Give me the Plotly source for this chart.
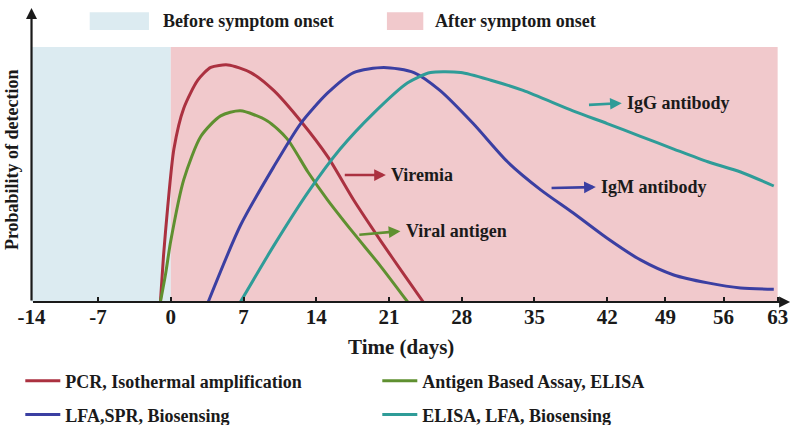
import numpy as np
import plotly.graph_objects as go

# ---- data (days since symptom onset, probability of detection 0..1) ----
tick_days = [-14, -7, 0, 7, 14, 21, 28, 35, 42, 49, 56, 63]
tick_labels = ["-14", "-7", "0", "7", "14", "21", "28", "35", "42", "49", "56", "63"]

pcr_days = [-1, -0.7, -0.3, 0.3, 1.25, 2.6, 3.85, 5.5, 7.7, 9.9, 12.5, 15.1, 17.6, 20.2, 22.4, 24.3]
pcr_prob = [0, 0.18, 0.37, 0.60, 0.76, 0.87, 0.92, 0.93, 0.90, 0.83, 0.71, 0.57, 0.40, 0.24, 0.11, 0]

antigen_days = [-1, -0.5, 0, 1.25, 2.9, 4.8, 6.7, 9.3, 11.2, 13.2, 15.1, 17.6, 20.2, 22.8]
antigen_prob = [0, 0.11, 0.24, 0.48, 0.65, 0.73, 0.75, 0.71, 0.64, 0.51, 0.40, 0.27, 0.14, 0]

igm_days = [3.6, 6.7, 9.9, 12.5, 15.1, 17.6, 20.5, 23.4, 25.9, 29.1, 32.4, 35.6, 38.7, 42, 46, 50, 54.1, 58.2, 62.5]
igm_prob = [0, 0.30, 0.53, 0.70, 0.82, 0.90, 0.92, 0.90, 0.83, 0.70, 0.55, 0.44, 0.35, 0.25, 0.165, 0.106, 0.075, 0.055, 0.05]

igg_days = [6.7, 9.9, 13.2, 16.3, 19.5, 22.8, 25, 27.9, 30.8, 33.9, 38.7, 42, 46, 50, 54.1, 58.2, 62.5]
igg_prob = [0, 0.22, 0.43, 0.60, 0.74, 0.86, 0.90, 0.90, 0.87, 0.83, 0.75, 0.70, 0.65, 0.60, 0.55, 0.51, 0.455]

series_names = ["PCR, Isothermal amplification", "Antigen Based Assay, ELISA",
                "LFA,SPR, Biosensing", "ELISA, LFA, Biosensing"]

# ---- axis scale: the picture's time axis is compressed after day 42 ----
tick_pos = [-13.4, -7, 0, 7, 14, 21, 28, 35, 42, 47.6, 53.2, 58.4]


def xs(days):
    return np.interp(days, tick_days, tick_pos)


FONT = "Liberation Serif, Times New Roman, serif"
DARK = "#1a1a1a"
RED, GREEN, BLUE, TEAL = "#ab3140", "#5f9030", "#3b3fa2", "#2f9c98"
BG_BLUE, BG_PINK = "#dcebf1", "#f1c9cc"

fig = go.Figure()
specs = [(pcr_days, pcr_prob, RED, series_names[0], "legend"),
         (antigen_days, antigen_prob, GREEN, series_names[1], "legend"),
         (igm_days, igm_prob, BLUE, series_names[2], "legend2"),
         (igg_days, igg_prob, TEAL, series_names[3], "legend2")]
for d, p, c, n, lg in specs:
    fig.add_trace(go.Scatter(x=xs(d), y=p, mode="lines", name=n, legend=lg,
                             line=dict(color=c, width=3, shape="spline", smoothing=0.7)))

# background phases
fig.add_shape(type="rect", xref="x", yref="y", x0=xs(-14), x1=xs(0), y0=0, y1=1.0,
              fillcolor=BG_BLUE, line_width=0, layer="below")
fig.add_shape(type="rect", xref="x", yref="y", x0=xs(0), x1=xs(63), y0=0, y1=1.0,
              fillcolor=BG_PINK, line_width=0, layer="below")

# top phase legend
fig.add_shape(type="rect", xref="x", yref="y", x0=-7.8, x1=-2.1, y0=1.067, y1=1.137,
              fillcolor=BG_BLUE, line_width=0)
fig.add_shape(type="rect", xref="x", yref="y", x0=20.8, x1=24.3, y0=1.067, y1=1.137,
              fillcolor=BG_PINK, line_width=0)
fig.add_annotation(x=-0.9, y=1.102, xref="x", yref="y", text="Before symptom onset",
                   showarrow=False, xanchor="left", yanchor="middle",
                   font=dict(family=FONT, size=18, color=DARK, weight="bold"))
fig.add_annotation(x=25.2, y=1.102, xref="x", yref="y", text="After symptom onset",
                   showarrow=False, xanchor="left", yanchor="middle",
                   font=dict(family=FONT, size=18, color=DARK, weight="bold"))

# axis arrows
fig.add_annotation(x=59.6, y=0, ax=xs(-14), ay=0, xref="x", yref="y", axref="x", ayref="y",
                   text="", showarrow=True, arrowhead=2, arrowsize=1, arrowwidth=2.2, arrowcolor=DARK)
fig.add_annotation(x=xs(-14), y=1.153, ax=xs(-14), ay=0, xref="x", yref="y", axref="x", ayref="y",
                   text="", showarrow=True, arrowhead=2, arrowsize=1, arrowwidth=2.2, arrowcolor=DARK)

# curve labels with arrows
labels = [("Viremia", 16.6, 0.498, 20.7, 0.498, RED),
          ("Viral antigen", 18.0, 0.263, 22.1, 0.278, GREEN),
          ("IgG antibody", 40.1, 0.773, 43.4, 0.780, TEAL),
          ("IgM antibody", 36.5, 0.447, 40.9, 0.451, BLUE)]
for txt, tx, ty, hx, hy, c in labels:
    fig.add_annotation(x=hx, y=hy, ax=tx, ay=ty, xref="x", yref="y", axref="x", ayref="y",
                       text="", showarrow=True, arrowhead=2, arrowsize=0.9, arrowwidth=2.6,
                       arrowcolor=c)
    fig.add_annotation(x=hx + 0.3, y=hy, xref="x", yref="y", text=txt, showarrow=False,
                       xanchor="left", yanchor="middle",
                       font=dict(family=FONT, size=18, color=DARK, weight="bold"))

# axis titles
fig.add_annotation(x=-0.024, y=0.48, xref="paper", yref="paper", text="Probability of detection",
                   textangle=-90, showarrow=False, xanchor="center", yanchor="middle",
                   font=dict(family=FONT, size=18, color=DARK, weight="bold"))
fig.add_annotation(x=0.484, y=-0.152, xref="paper", yref="paper", text="Time (days)",
                   showarrow=False, xanchor="center", yanchor="middle",
                   font=dict(family=FONT, size=21, color=DARK, weight="bold"))

legend_common = dict(orientation="h", xanchor="left", yanchor="middle", entrywidth=307,
                     entrywidthmode="pixels", itemwidth=35, bgcolor="rgba(0,0,0,0)",
                     font=dict(family=FONT, size=18, color=DARK, weight="bold"))

fig.update_layout(
    width=800, height=425,
    margin=dict(l=31, r=5, t=5, b=123, autoexpand=False),
    paper_bgcolor="white", plot_bgcolor="white",
    showlegend=True,
    legend=dict(x=-0.014, y=-0.266, **legend_common),
    legend2=dict(x=-0.014, y=-0.380, **legend_common),
    xaxis=dict(range=[-13.45, 60.07], tickvals=tick_pos, ticktext=tick_labels,
               ticks="inside", ticklen=5, tickwidth=1.5, tickcolor=DARK,
               showgrid=False, zeroline=False, showline=False, automargin=False,
               tickfont=dict(family=FONT, size=21, color=DARK, weight="bold")),
    yaxis=dict(range=[0, 1.165], showticklabels=False, showgrid=False, zeroline=False,
               showline=False, ticks="", automargin=False),
)

fig.write_html("out.html", config={"displayModeBar": False},
               post_script="document.body.style.margin='0';document.body.style.overflow='hidden';")
